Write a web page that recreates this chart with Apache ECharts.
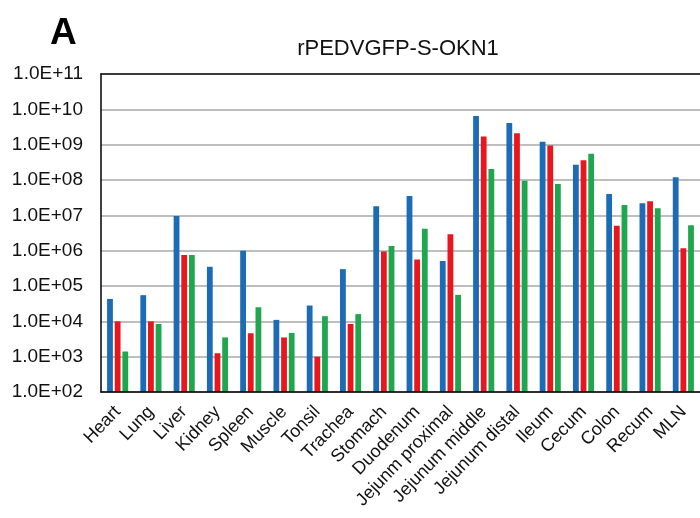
<!DOCTYPE html>
<html>
<head>
<meta charset="utf-8">
<script src="https://cdn.jsdelivr.net/npm/echarts@6/dist/echarts.min.js"></script>
<style>
  html, body { margin: 0; padding: 0; background: #ffffff; }
  #chart { width: 700px; height: 518px; }
</style>
</head>
<body>
<div id="chart"></div>
<script>
// Tissue distribution of viral RNA (copies), log scale
const tissues = ['Heart', 'Lung', 'Liver', 'Kidney', 'Spleen', 'Muscle', 'Tonsil', 'Trachea',
  'Stomach', 'Duodenum', 'Jejunm proximal', 'Jejunum middle', 'Jejunum distal', 'Ileum',
  'Cecum', 'Colon', 'Recum', 'MLN'];

const seriesBlue = [4.3e4, 5.5e4, 9.5e6, 3.5e5, 1.0e6, 1.1e4, 2.8e4, 3.0e5,
  1.8e7, 3.5e7, 5.1e5, 6.5e9, 4.1e9, 1.2e9, 2.7e8, 4.0e7, 2.2e7, 1.2e8];
const seriesRed = [1.0e4, 1.0e4, 7.5e5, 1.25e3, 4.6e3, 3.5e3, 1.0e3, 8.4e3,
  9.5e5, 5.6e5, 2.9e6, 1.7e9, 2.1e9, 9.5e8, 3.6e8, 5.1e6, 2.5e7, 1.17e6];
const seriesGreen = [1.4e3, 8.4e3, 7.5e5, 3.5e3, 2.5e4, 4.7e3, 1.4e4, 1.6e4,
  1.35e6, 4.2e6, 5.6e4, 2.05e8, 9.6e7, 7.7e7, 5.5e8, 1.95e7, 1.58e7, 5.2e6];

const yTickLabels = ['1.0E+02', '1.0E+03', '1.0E+04', '1.0E+05', '1.0E+06',
  '1.0E+07', '1.0E+08', '1.0E+09', '1.0E+10', '1.0E+11'];

const FONT = '"Liberation Sans", Arial, Helvetica, sans-serif';

const chart = echarts.init(document.getElementById('chart'), null, { renderer: 'canvas' });

function barSeries(name, data, color) {
  return {
    name: name,
    type: 'bar',
    data: data,
    barWidth: 5.8,
    barGap: '32%',
    clip: true,
    itemStyle: { color: color },
    emphasis: { disabled: true }
  };
}

chart.setOption({
  animation: false,
  backgroundColor: '#ffffff',
  title: [
    {
      text: 'A',
      left: 45,
      top: 10,
      textStyle: { fontFamily: FONT, fontSize: 37, fontWeight: 'bold', color: '#000' }
    },
    {
      text: 'rPEDVGFP-S-OKN1',
      left: 393,
      top: 33,
      textAlign: 'center',
      textStyle: { fontFamily: FONT, fontSize: 22, fontWeight: 'normal', color: '#111' }
    }
  ],
  grid: { left: 101, top: 74, width: 608, height: 318, containLabel: false },
  xAxis: [
    {
      type: 'category',
      data: tissues,
      position: 'bottom',
      axisLine: { onZero: false, lineStyle: { color: '#000', width: 1.5 } },
      axisTick: { show: false },
      axisLabel: {
        interval: 0,
        rotate: 46,
        margin: 17,
        fontFamily: FONT,
        fontSize: 18,
        color: '#111'
      },
      z: 3
    },
    {
      type: 'category',
      data: tissues,
      position: 'top',
      axisLine: { onZero: false, lineStyle: { color: '#111', width: 1.5 } },
      axisTick: { show: false },
      axisLabel: { show: false },
      z: 3
    }
  ],
  yAxis: {
    type: 'log',
    logBase: 10,
    min: 1e2,
    max: 1e11,
    axisLine: { show: true, lineStyle: { color: '#000', width: 1.5 } },
    axisTick: { show: false },
    splitLine: { show: true, lineStyle: { color: '#a8a8a8', width: 1.5 } },
    axisLabel: {
      margin: 18,
      fontFamily: FONT,
      fontSize: 19,
      color: '#111',
      formatter: function (v) {
        const idx = Math.round(Math.log10(v)) - 2;
        return yTickLabels[idx];
      }
    }
  },
  series: [
    barSeries('Blue', seriesBlue, '#1b6bb6'),
    barSeries('Red', seriesRed, '#e9161e'),
    barSeries('Green', seriesGreen, '#1fa64e')
  ]
});
</script>
</body>
</html>
